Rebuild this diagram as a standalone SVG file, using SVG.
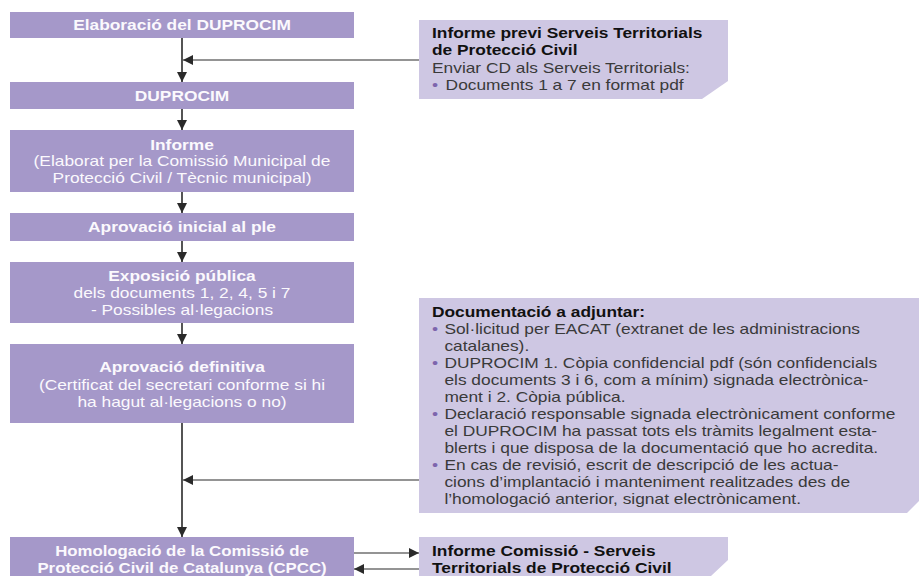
<svg xmlns="http://www.w3.org/2000/svg" width="919" height="576" viewBox="0 0 919 576">
<defs>
<style>
.dark{fill:#a598c9;}
.light{fill:#cec7e3;}
text{font-family:"Liberation Sans",Arial,sans-serif;font-size:14px;}
.lt{fill:#fbf9fd;text-anchor:middle;}
.rt{fill:#3a3a3a;}
.b{font-weight:bold;}
.rt .b{fill:#111;}
.bul{fill:#7d65ad;}
.conn{stroke:#2a2a2a;fill:none;}
.v{stroke-width:1.6;}
.h{stroke-width:1.2;}
</style>
<marker id="ah" viewBox="0 0 10 10" refX="10" refY="5" markerWidth="10" markerHeight="10" markerUnits="userSpaceOnUse" orient="auto">
<path d="M0,0 L10,5 L0,10 z" fill="#2a2a2a"/>
</marker>
</defs>
<rect width="919" height="576" fill="#ffffff"/>

<g id="connectors">
<line class="conn v" x1="182" y1="38" x2="182" y2="82" marker-end="url(#ah)"/>
<line class="conn h" x1="419" y1="60" x2="183" y2="60" marker-end="url(#ah)"/>
<line class="conn v" x1="182" y1="109" x2="182" y2="130" marker-end="url(#ah)"/>
<line class="conn v" x1="182" y1="192" x2="182" y2="213" marker-end="url(#ah)"/>
<line class="conn v" x1="182" y1="241" x2="182" y2="262" marker-end="url(#ah)"/>
<line class="conn v" x1="182" y1="323" x2="182" y2="344" marker-end="url(#ah)"/>
<line class="conn v" x1="182" y1="423" x2="182" y2="537" marker-end="url(#ah)"/>
<line class="conn h" x1="419" y1="480" x2="183" y2="480" marker-end="url(#ah)"/>
<line class="conn h" x1="354" y1="553" x2="419" y2="553" marker-end="url(#ah)"/>
<line class="conn h" x1="419" y1="569" x2="354" y2="569" marker-end="url(#ah)"/>
</g>

<g id="n1">
<rect class="dark" x="10" y="12" width="344" height="26"/>
<text class="lt b" transform="translate(182 0) scale(1.24 1)" x="0" y="30">Elaboració del DUPROCIM</text>
</g>

<g id="n2">
<rect class="dark" x="10" y="82" width="344" height="27"/>
<text class="lt b" transform="translate(182 0) scale(1.24 1)" x="0" y="101">DUPROCIM</text>
</g>

<g id="n3">
<rect class="dark" x="10" y="130" width="344" height="62"/>
<text class="lt" transform="translate(182 0) scale(1.24 1)"><tspan class="b" x="0" y="150">Informe</tspan><tspan x="0" y="166">(Elaborat per la Comissió Municipal de</tspan><tspan x="0" y="183">Protecció Civil / Tècnic municipal)</tspan></text>
</g>

<g id="n4">
<rect class="dark" x="10" y="213" width="344" height="28"/>
<text class="lt b" transform="translate(182 0) scale(1.24 1)" x="0" y="232">Aprovació inicial al ple</text>
</g>

<g id="n5">
<rect class="dark" x="10" y="262" width="344" height="61"/>
<text class="lt" transform="translate(182 0) scale(1.24 1)"><tspan class="b" x="0" y="281">Exposició pública</tspan><tspan x="0" y="298">dels documents 1, 2, 4, 5 i 7</tspan><tspan x="0" y="315">- Possibles al·legacions</tspan></text>
</g>

<g id="n6">
<rect class="dark" x="10" y="344" width="344" height="79"/>
<text class="lt" transform="translate(182 0) scale(1.24 1)"><tspan class="b" x="0" y="372">Aprovació definitiva</tspan><tspan x="0" y="390">(Certificat del secretari conforme si hi</tspan><tspan x="0" y="407">ha hagut al·legacions o no)</tspan></text>
</g>

<g id="n7">
<rect class="dark" x="10" y="537" width="344" height="39"/>
<text class="lt b" transform="translate(182 0) scale(1.2 1)"><tspan x="0" y="556">Homologació de la Comissió de</tspan><tspan x="0" y="573">Protecció Civil de Catalunya (CPCC)</tspan></text>
</g>

<g id="r1">
<polygon class="light" points="419,20 728,20 728,81 702,99 419,99"/>
<text class="rt" transform="translate(432 0) scale(1.24 1)"><tspan class="b" x="0" y="38">Informe previ Serveis Territorials</tspan><tspan class="b" x="0" y="55">de Protecció Civil</tspan><tspan x="0" y="73">Enviar CD als Serveis Territorials:</tspan><tspan class="bul" x="0" y="90">•</tspan><tspan x="11" y="90">Documents 1 a 7 en format pdf</tspan></text>
</g>

<g id="r2">
<polygon class="light" points="419,298 919,298 919,501 907,513 419,513"/>
<text class="rt" transform="translate(432 0) scale(1.24 1)"><tspan class="b" x="0" y="317">Documentació a adjuntar:</tspan><tspan class="bul" x="0" y="334">•</tspan><tspan x="10" y="334">Sol·licitud per EACAT (extranet de les administracions</tspan><tspan x="10" y="351">catalanes).</tspan><tspan class="bul" x="0" y="368">•</tspan><tspan x="10" y="368">DUPROCIM 1. Còpia confidencial pdf (són confidencials</tspan><tspan x="10" y="385">els documents 3 i 6, com a mínim) signada electrònica-</tspan><tspan x="10" y="402">ment i 2. Còpia pública.</tspan><tspan class="bul" x="0" y="419">•</tspan><tspan x="10" y="419">Declaració responsable signada electrònicament conforme</tspan><tspan x="10" y="436">el DUPROCIM ha passat tots els tràmits legalment esta-</tspan><tspan x="10" y="453">blerts i que disposa de la documentació que ho acredita.</tspan><tspan class="bul" x="0" y="470">•</tspan><tspan x="10" y="470">En cas de revisió, escrit de descripció de les actua-</tspan><tspan x="10" y="487">cions d’implantació i manteniment realitzades des de</tspan><tspan x="10" y="504">l’homologació anterior, signat electrònicament.</tspan></text>
</g>

<g id="r3">
<polygon class="light" points="419,537 728,537 728,560 711,576 419,576"/>
<text class="rt" transform="translate(432 0) scale(1.24 1)"><tspan class="b" x="0" y="556">Informe Comissió - Serveis</tspan><tspan class="b" x="0" y="573">Territorials de Protecció Civil</tspan></text>
</g>
</svg>
